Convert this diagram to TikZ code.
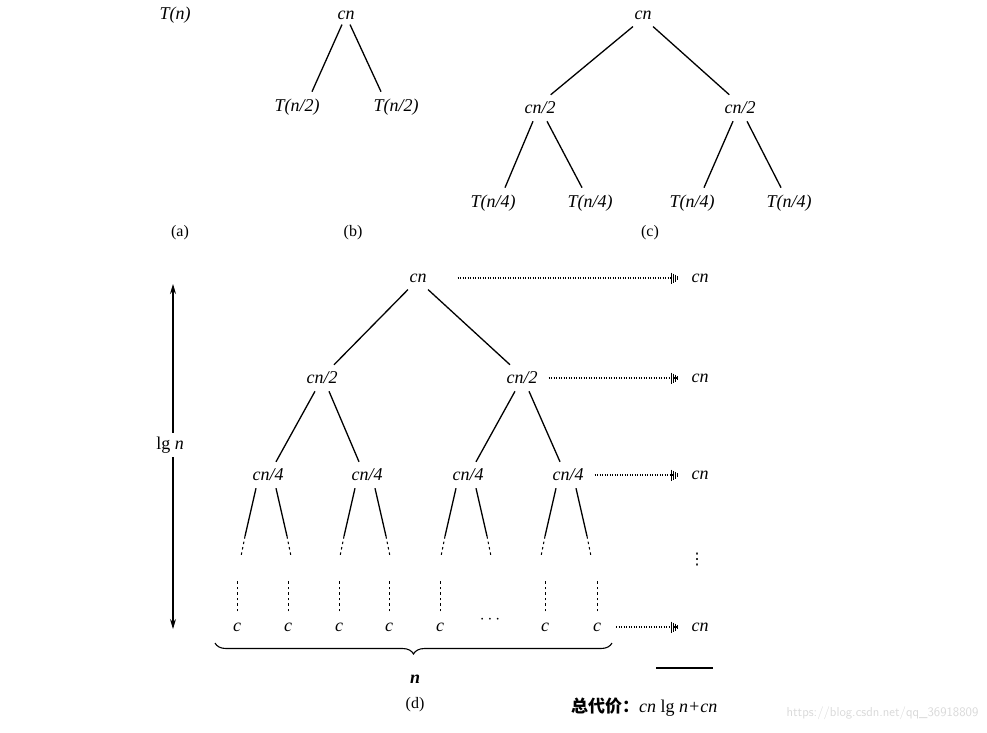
\documentclass[tikz,border=0pt]{standalone}
\usepackage{fontspec}
\setmainfont{Liberation Serif}
\newfontfamily\cjk{Noto Sans CJK SC}
\newfontfamily\dvs{DejaVu Sans}
\usetikzlibrary{decorations.pathreplacing,arrows.meta}
\begin{document}
\begin{tikzpicture}[x=1pt,y=-1pt,
  lab/.style={font=\fontsize{18}{18}\selectfont\itshape, inner sep=1pt},
  captxt/.style={font=\fontsize{16}{16}\selectfont, inner sep=1pt},
  edge/.style={line width=1.3pt},
  dots/.style={line width=2.2pt, dash pattern=on 1.2pt off 1.3pt, -{Bar[width=11pt,line width=1pt,sep=1.2pt]Bar[width=9pt,line width=1pt,sep=1.2pt]Bar[width=7pt,line width=1pt,sep=1.2pt]Bar[width=4pt,line width=1pt]}},
  dsh/.style={line width=1pt, dash pattern=on 2.5pt off 3pt}]
\useasboundingbox (0,0) rectangle (987,732);
% (a)
\node[lab] (a) at (175,15) {T(n)};
\node[captxt] (la) at (180,233) {(a)};
% (b)
\node[lab] (b0) at (346,15) {cn};
\node[lab] (b1) at (297,107) {T(n/2)};
\node[lab] (b2) at (396,107) {T(n/2)};
\draw[edge] (b0.south) ++(-4,4) -- ([xshift=15pt,yshift=6pt]b1.north);
\draw[edge] (b0.south) ++(4,4) -- ([xshift=-15pt,yshift=6pt]b2.north);
\node[captxt] (lb) at (353,233) {(b)};
% (c)
\node[lab] (c0) at (643,15) {cn};
\node[lab] (c1) at (540,108) {cn/2};
\node[lab] (c2) at (740,108) {cn/2};
\foreach \n/\x in {c11/493,c12/590,c21/692,c22/789}{
  \node[lab] (\n) at (\x,203) {T(n/4)};}
\draw[edge] (c0.south) ++(-10,6) -- ([xshift=-6pt,yshift=6pt]c1.north east);
\draw[edge] (c0.south) ++(10,6) -- ([xshift=6pt,yshift=6pt]c2.north west);
\draw[edge] (c1.south) ++(-7,6) -- ([xshift=12pt,yshift=6pt]c11.north);
\draw[edge] (c1.south) ++(7,6) -- ([xshift=-8pt,yshift=6pt]c12.north);
\draw[edge] (c2.south) ++(-7,6) -- ([xshift=12pt,yshift=6pt]c21.north);
\draw[edge] (c2.south) ++(7,6) -- ([xshift=-8pt,yshift=6pt]c22.north);
\node[captxt] (lc) at (650,233) {(c)};
% (d)
\node[lab] (d0) at (418,278) {cn};
\node[lab] (d1) at (322,378) {cn/2};
\node[lab] (d2) at (522,378) {cn/2};
\node[lab] (d11) at (268,475) {cn/4};
\node[lab] (d12) at (367,475) {cn/4};
\node[lab] (d21) at (468,475) {cn/4};
\node[lab] (d22) at (568,475) {cn/4};
\draw[edge] (d0.south) ++(-10,6) -- ([xshift=12pt,yshift=6pt]d1.north);
\draw[edge] (d0.south) ++(10,6) -- ([xshift=-12pt,yshift=6pt]d2.north);
\foreach \p/\l/\r in {d1/d11/d12,d2/d21/d22}{
  \draw[edge] (\p.south) ++(-7,6) -- ([xshift=8pt,yshift=6pt]\l.north);
  \draw[edge] (\p.south) ++(7,6) -- ([xshift=-8pt,yshift=6pt]\r.north);}
\foreach \p in {d11,d12,d21,d22}{
  \coordinate (\p L) at ([xshift=-12pt,yshift=-6pt]\p.south);
  \coordinate (\p R) at ([xshift=8pt,yshift=-6pt]\p.south);
  \draw[edge] (\p L) -- ++(-11,48);
  \draw[dsh] (\p L) ++(-11,48) -- ++(-4,20);
  \draw[edge] (\p R) -- ++(11,48);
  \draw[dsh] (\p R) ++(11,48) -- ++(4,20);}
\foreach \i/\x in {1/237,2/288,3/339,4/389,5/440,7/545,8/597}{
  \node[lab] (e\i) at (\x,627) {c};
  \draw[dsh] ([yshift=10pt]e\i.north) -- ++(0,-32);}
\node[lab] (e6) at (490,620) {$\cdots$};
% right column
\node[lab] (r1) at (700,278) {cn};
\node[lab] (r2) at (700,378) {cn};
\node[lab] (r3) at (700,475) {cn};
\node[font=\dvs\fontsize{16}{16}\selectfont, inner sep=0pt] (rv) at (697,560) {⋮};
\node[lab] (r5) at (700,627) {cn};
\draw[dots] ([xshift=30pt]d0.east) -- ([xshift=-12pt]r1.west);
\draw[dots] ([xshift=10pt]d2.east) -- ([xshift=-12pt]r2.west);
\draw[dots] ([xshift=10pt]d22.east) -- ([xshift=-12pt]r3.west);
\draw[dots] ([xshift=14pt]e8.east) -- ([xshift=-12pt]r5.west);
% lg n
\coordinate (lt) at (173,284);
\coordinate (lbm) at (173,629);
\draw[line width=1.1pt,{Stealth[length=10pt,width=6pt]}-{Stealth[length=10pt,width=6pt]}] (lt) -- (lbm);
\node[lab, fill=white, inner sep=4pt] (lg) at (170,445) {\textup{lg} n};
% brace
\coordinate (bl) at (215,643);
\coordinate (br) at (612,643);
\draw[line width=1.1pt, decorate, decoration={brace, mirror, amplitude=11pt}] (bl) -- (br);
\node[lab] (bn) at (415,679) {\bfseries n};
\node[captxt] (ld) at (415,705) {(d)};
\coordinate (s1) at (656,668);
\coordinate (s2) at (713,668);
\draw[line width=1.1pt] (s1) -- (s2);
\node[lab, anchor=west] (tot) at (570,707) {{\cjk\bfseries\upshape\fontsize{17}{17}\selectfont 总代价：}cn \textup{lg} n+cn};
\node[font=\fontsize{13}{13}\selectfont\sffamily, text=black!15, anchor=east] (wm) at (982,713) {https://blog.csdn.net/qq\_36918809};
\end{tikzpicture}
\end{document}
